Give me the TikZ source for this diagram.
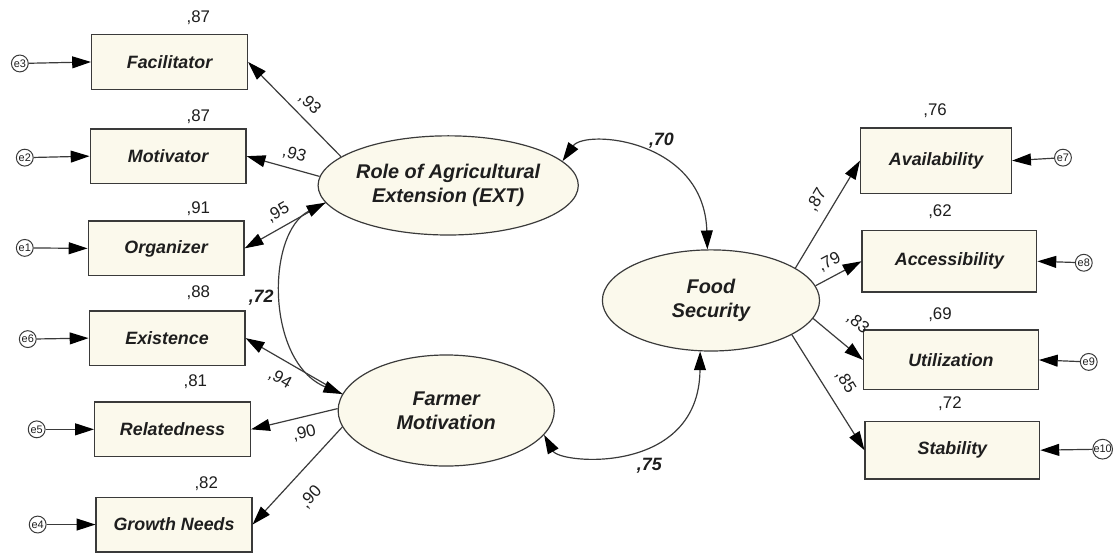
\documentclass[tikz,border=0pt]{standalone}
\usepackage{fontspec}
\setmainfont{Liberation Sans}
\usetikzlibrary{arrows.meta,shapes.geometric,positioning}
\definecolor{semfill}{HTML}{FBF9EC}
\definecolor{semline}{HTML}{3A3A3A}
\definecolor{semtext}{HTML}{1E1E1E}

\begin{document}
\begin{tikzpicture}[
  x=0.5pt, y=0.5pt,
  font=\fontsize{8.5}{10}\selectfont, text=semtext,
  obs/.style={draw=semline, fill=semfill, line width=0.7pt, minimum width=78.5pt,
              minimum height=27.5pt, inner sep=0pt, font=\fontsize{9}{10}\selectfont\bfseries\itshape},
  obsr/.style={obs, minimum width=88pt, minimum height=31pt},
  latent/.style={ellipse, draw=semline, fill=semfill, line width=0.6pt, inner sep=0pt,
                 align=center, font=\fontsize{10}{12}\selectfont\bfseries\itshape},
  err/.style={circle, draw=semline, fill=white, line width=0.5pt, minimum size=8.5pt,
              inner sep=0pt, font=\fontsize{5.5}{6}\selectfont},
  rsq/.style={font=\fontsize{8.5}{10}\selectfont},
  load/.style={font=\fontsize{8.5}{10}\selectfont, sloped, inner sep=1.5pt},
  cov/.style={font=\fontsize{9}{10}\selectfont\bfseries\itshape},
  arrow/.style={-{Triangle[length=9.5pt,width=6pt,color=black]}, line width=0.6pt, draw=semline},
  covarrow/.style={{Triangle[length=9.5pt,width=6pt,color=black]}-{Triangle[length=9.5pt,width=6pt,color=black]},
                   line width=0.6pt, draw=semline}
]
\fill[white] (0,0) rectangle (1113,556);

% latent variables
\node[latent, minimum width=110pt, minimum height=50pt] (ext) at (452,369) {Role of Agricultural\\Extension (EXT)};
\node[latent, minimum width=109pt, minimum height=56pt] (farm) at (450,142) {Farmer\\Motivation};
\node[latent, minimum width=109.5pt, minimum height=51pt] (food) at (717,253) {Food\\Security};

% indicators, left
\node[obs] (fac) at (171,493.5) {Facilitator};
\node[obs] (mot) at (169.5,398.5) {Motivator};
\node[obs] (org) at (167.5,305.5) {Organizer};
\node[obs] (exi) at (168.5,215) {Existence};
\node[obs] (rel) at (174,123) {Relatedness};
\node[obs] (gro) at (175.5,27) {Growth Needs};

% indicators, right
\node[obsr, minimum width=76pt, minimum height=33pt] (ava) at (944,394) {Availability};
\node[obsr] (acc) at (957.5,292.5) {Accessibility};
\node[obsr, minimum height=30pt] (uti) at (959,193) {Utilization};
\node[obsr, minimum height=29pt] (sta) at (960.5,102) {Stability};

% errors
\node[err] (e3) at (20,492) {e3};
\node[err] (e2) at (25,397) {e2};
\node[err] (e1) at (25,306) {e1};
\node[err] (e6) at (28,214) {e6};
\node[err] (e5) at (37,123) {e5};
\node[err] (e4) at (38,27) {e4};
\node[err] (e7) at (1072,397) {e7};
\node[err] (e8) at (1093,291) {e8};
\node[err] (e9) at (1098,191) {e9};
\node[err] (e10) at (1112,103) {e10};

% squared multiple correlations
\node[rsq] (r1) at (200,538) {,87};
\node[rsq] (r2) at (200,438) {,87};
\node[rsq] (r3) at (200,346) {,91};
\node[rsq] (r4) at (200,261) {,88};
\node[rsq] (r5) at (197,171) {,81};
\node[rsq] (r6) at (208,68) {,82};
\node[rsq] (r7) at (943,444) {,76};
\node[rsq] (r8) at (948,343) {,62};
\node[rsq] (r9) at (948,239) {,69};
\node[rsq] (r10) at (958,149) {,72};

% error paths
\draw[arrow] (e3) -- (fac.west);
\draw[arrow] (e2) -- (mot.west);
\draw[arrow] (e1) -- (org.west);
\draw[arrow] (e6) -- (exi.west);
\draw[arrow] (e5) -- (rel.west);
\draw[arrow] (e4) -- (gro.west);
\draw[arrow] (e7) -- (ava.east);
\draw[arrow] (e8) -- (acc.east);
\draw[arrow] (e9) -- (uti.east);
\draw[arrow] (e10) -- (sta.east);

% loadings
\draw[arrow] (ext.165) -- node[load, above=2pt, pos=.45] {,93} (fac.east);
\draw[arrow] (ext.176) -- node[load, above=2pt, pos=.4] {,93} (mot.east);
\draw[arrow] (ext.188) -- node[load, above=2pt, pos=.5] {,95} (org.east);
\draw[arrow] (farm.171) -- node[load, below=4pt, pos=.55] {,94} (exi.east);
\draw[arrow] (farm.179) -- node[load, below=3pt, pos=.43] {,90} (rel.east);
\draw[arrow] (farm.189) -- node[load, below=7pt, pos=.55] {,90} (gro.east);
\draw[arrow] (food.21) -- node[load, above=3pt, pos=.55] {,87} (ava.west);
\draw[arrow] (food.8) -- node[load, above=2pt, pos=.45] {,79} (acc.west);
\draw[arrow] (food.-10) -- node[load, above=7pt, pos=.58] {,83} (uti.west);
\draw[arrow] (food.-23) -- node[load, above=5pt, pos=.5] {,85} (sta.west);

% covariances
\draw[covarrow] (ext.188) .. controls (268,321) and (268,191) .. node[cov, left=1pt, pos=.5] {,72} (farm.171);
\draw[covarrow] (ext.12) .. controls (590,426) and (710,416) .. node[cov, above=3pt, pos=.6] {,70} (food.94);
\draw[covarrow] (farm.-14) .. controls (565,88) and (705,76) .. node[cov, below=4pt, pos=.6] {,75} (food.258);
\end{tikzpicture}
\end{document}
